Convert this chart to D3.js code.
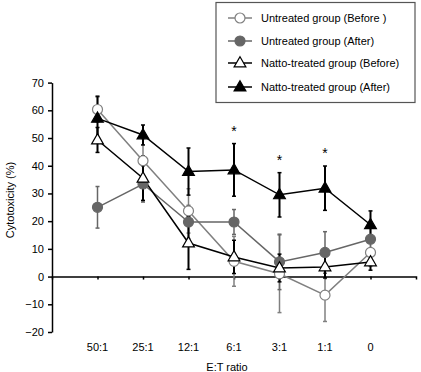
<!DOCTYPE html>
<html>
<head>
<meta charset="utf-8">
<script src="https://cdn.jsdelivr.net/npm/d3@7"></script>
<style>
  body { margin: 0; background: #fff; }
  text { font-family: "Liberation Sans", Arial, sans-serif; }
</style>
</head>
<body>
<div id="chart"></div>
<script>
// E:T ratios on the x axis
var categories = ["50:1", "25:1", "12:1", "6:1", "3:1", "1:1", "0"];
var yTicks = [-20, -10, 0, 10, 20, 30, 40, 50, 60, 70];

// means and SDs
var untreatedBefore   = [60.3, 41.8, 23.7, 5.5, 1.0, -6.7, 8.7];
var untreatedBeforeSd = [4.5, 8, 8, 9, 14, 9.5, 5];
var untreatedAfter    = [25.0, 33.4, 19.7, 19.7, 5.3, 8.7, 13.5];
var untreatedAfterSd  = [7.5, 6.5, 6, 4.5, 10, 7.5, 4];
var nattoBefore       = [49.3, 35.5, 12.1, 7.1, 3.1, 3.5, 5.3];
var nattoBeforeSd     = [4.5, 8, 9.5, 6, 5, 4, 3];
var nattoAfter        = [57.1, 51.1, 37.9, 38.5, 29.5, 31.9, 18.7];
var nattoAfterSd      = [8, 3.6, 8.5, 9.5, 8, 8, 5];

var significant = ["6:1", "3:1", "1:1"];

var seriesNames = [
  "Untreated group (Before )",
  "Untreated group (After)",
  "Natto-treated group (Before)",
  "Natto-treated group (After)"
];

var width = 421, height = 372;
var plotLeft = 52, plotRight = 416, plotTop = 82.6, plotBottom = 332;

var series = [
  { name: seriesNames[0], mean: untreatedBefore, sd: untreatedBeforeSd, line: "#808080", barW: 1.5, shape: "circle", fill: "#fff", stroke: "#808080" },
  { name: seriesNames[1], mean: untreatedAfter, sd: untreatedAfterSd, line: "#666", barW: 1.5, shape: "circle", fill: "#666", stroke: "#666" },
  { name: seriesNames[2], mean: nattoBefore, sd: nattoBeforeSd, line: "#000", barW: 2, shape: "triangle", fill: "#fff", stroke: "#000" },
  { name: seriesNames[3], mean: nattoAfter, sd: nattoAfterSd, line: "#000", barW: 2, shape: "triangle", fill: "#000", stroke: "#000" }
];

var svg = d3.select("#chart").append("svg")
    .attr("width", width)
    .attr("height", height);

var x = d3.scalePoint().domain(categories).range([plotLeft, plotRight]).padding(1);
var y = d3.scaleLinear().domain([-20, 70]).range([plotBottom, plotTop]);

// y axis
var yAxis = svg.append("g")
    .attr("transform", "translate(" + plotLeft + ",0)")
    .call(d3.axisLeft(y).tickValues(yTicks).tickSize(4).tickSizeOuter(0).tickPadding(4).tickFormat(d3.format("d")));
yAxis.select(".domain").attr("stroke", "#000").attr("stroke-width", 1.5);
yAxis.selectAll(".tick line").attr("stroke", "#000").attr("stroke-width", 1.5);
yAxis.selectAll("text").attr("font-size", 11).attr("fill", "#000")
    .style("font-family", "'Liberation Sans', Arial, sans-serif");

// x axis sits on the zero line
var xAxis = svg.append("g")
    .attr("transform", "translate(0," + y(0) + ")")
    .call(d3.axisBottom(x).tickSize(3).tickSizeOuter(3).tickFormat(""));
xAxis.select(".domain").attr("stroke", "#000").attr("stroke-width", 1.5);
xAxis.selectAll(".tick line").attr("stroke", "#000").attr("stroke-width", 1.5);

// category labels below the plot
svg.append("g").selectAll("text")
  .data(categories)
  .enter().append("text")
    .attr("x", function(d) { return x(d); })
    .attr("y", 351)
    .attr("text-anchor", "middle")
    .attr("font-size", 11)
    .text(function(d) { return d; });

svg.append("text")
    .attr("x", 227)
    .attr("y", 371)
    .attr("text-anchor", "middle")
    .attr("font-size", 11)
    .text("E:T ratio");

svg.append("text")
    .attr("transform", "translate(14," + 200 + ") rotate(-90)")
    .attr("text-anchor", "middle")
    .attr("font-size", 11)
    .text("Cytotoxicity (%)");

var line = d3.line()
    .x(function(d, i) { return x(categories[i]); })
    .y(function(d) { return y(d); });

function drawMarker(g, s, cx, cy) {
  if (s.shape == "circle") {
    g.append("circle")
      .attr("cx", cx).attr("cy", cy).attr("r", 5)
      .attr("fill", s.fill).attr("stroke", s.stroke).attr("stroke-width", 1.2);
  } else {
    g.append("path")
      .attr("d", d3.symbol().type(d3.symbolTriangle).size(60)())
      .attr("transform", "translate(" + cx + "," + (cy + 0.5) + ")")
      .attr("fill", s.fill).attr("stroke", s.stroke).attr("stroke-width", 1.2);
  }
}

// error bars first, then lines, then markers
series.forEach(function(s) {
  var g = svg.append("g");
  s.mean.forEach(function(m, i) {
    var cx = x(categories[i]);
    var hi = y(m + s.sd[i]), lo = y(m - s.sd[i]);
    g.append("line").attr("x1", cx).attr("x2", cx).attr("y1", hi).attr("y2", lo)
      .attr("stroke", s.line).attr("stroke-width", s.barW);
    [hi, lo].forEach(function(yy) {
      g.append("line").attr("x1", cx - 2).attr("x2", cx + 2).attr("y1", yy).attr("y2", yy)
        .attr("stroke", s.line).attr("stroke-width", 1.5);
    });
  });
});

series.forEach(function(s) {
  svg.append("path")
    .datum(s.mean)
    .attr("d", line)
    .attr("fill", "none")
    .attr("stroke", s.line)
    .attr("stroke-width", 1.5);
});

series.forEach(function(s) {
  var g = svg.append("g");
  s.mean.forEach(function(m, i) {
    drawMarker(g, s, x(categories[i]), y(m));
  });
});

// asterisks above the natto-after bars
significant.forEach(function(c) {
  var i = categories.indexOf(c);
  svg.append("text")
    .attr("x", x(c))
    .attr("y", y(nattoAfter[i] + nattoAfterSd[i]) - 8)
    .attr("text-anchor", "middle")
    .attr("font-size", 14)
    .text("*");
});

// legend
var legend = svg.append("g");
legend.append("rect")
    .attr("x", 216).attr("y", 2.5)
    .attr("width", 199).attr("height", 100)
    .attr("fill", "#fff").attr("stroke", "#555").attr("stroke-width", 1.2);

var legendY = [18, 41, 63, 87];
series.forEach(function(s, i) {
  var ly = legendY[i];
  legend.append("line")
    .attr("x1", 228).attr("x2", 252).attr("y1", ly).attr("y2", ly)
    .attr("stroke", s.line).attr("stroke-width", 1.5);
  drawMarker(legend, s, 240, ly);
  legend.append("text")
    .attr("x", 261).attr("y", ly + 4)
    .attr("font-size", 11)
    .text(s.name);
});
</script>
</body>
</html>
